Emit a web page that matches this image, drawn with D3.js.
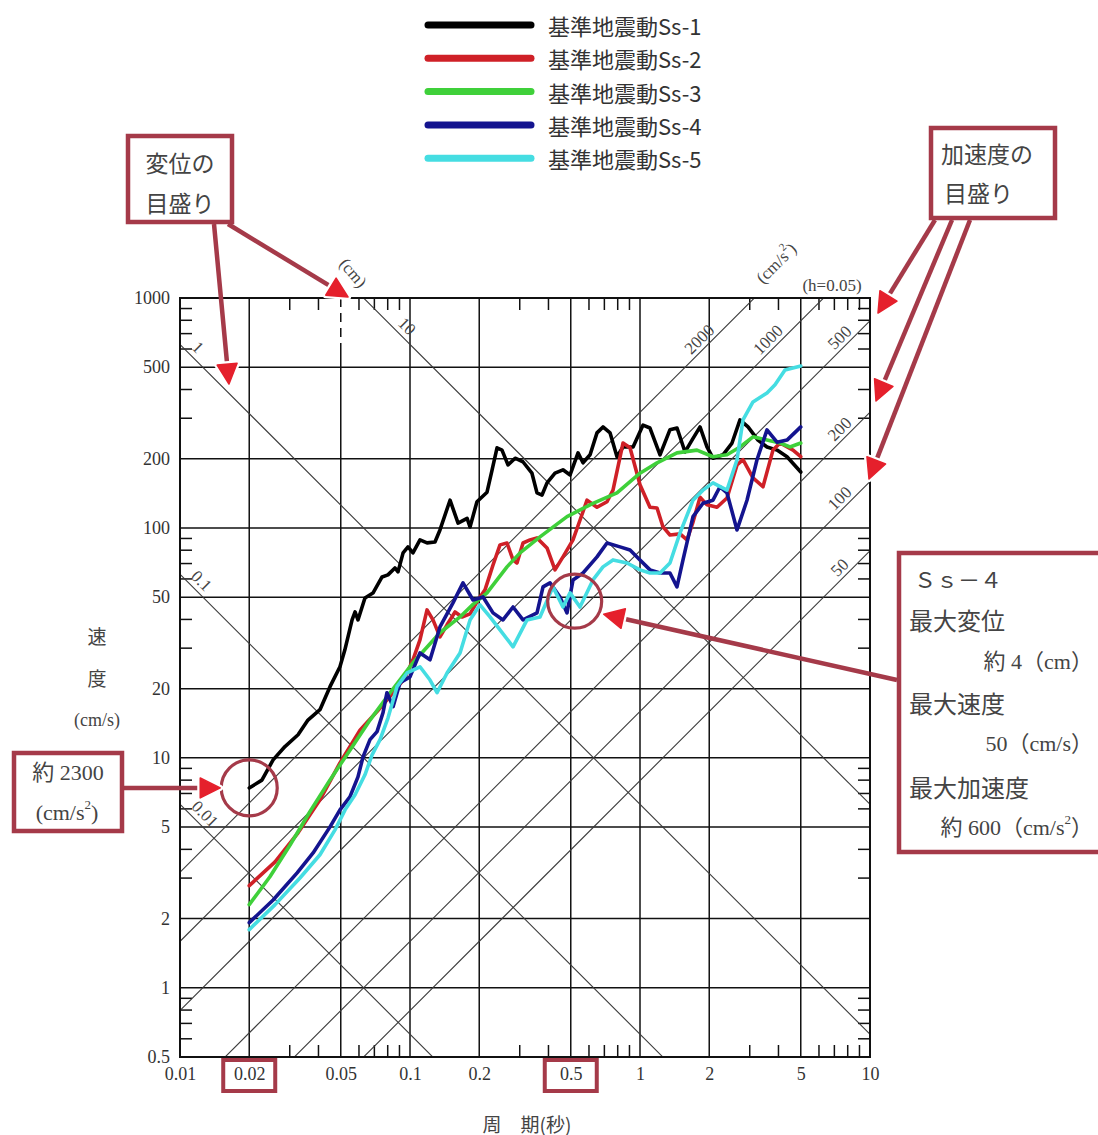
<!DOCTYPE html>
<html>
<head>
<meta charset="utf-8">
<script src="https://cdn.jsdelivr.net/npm/d3@7"></script>
<style>
  body { margin: 0; background: #fff; }
  svg { display: block; }
</style>
</head>
<body>
<svg id="chart" width="1098" height="1135"></svg>
<script>
// ---- series: [period (s), pseudo velocity (cm/s)] ----
const seriesNames = ["基準地震動Ss-1", "基準地震動Ss-2", "基準地震動Ss-3", "基準地震動Ss-4", "基準地震動Ss-5"];
const seriesColors = ["#000000", "#cf2027", "#3fd03a", "#14148f", "#45dde2"];

const ss1 = [[0.02,7.4],[0.0227,8.0],[0.0254,9.8],[0.0286,11.2],[0.0326,12.6],[0.036,14.6],[0.0406,16.2],[0.0449,20.4],[0.0496,24.9],[0.0521,29.5],[0.056,39.8],[0.0577,43.1],[0.0594,39.8],[0.0637,49.6],[0.069,52.1],[0.0756,61.2],[0.0802,62.5],[0.086,67.0],[0.0887,64.4],[0.0933,77.9],[0.098,82.7],[0.103,77.9],[0.1105,88.7],[0.1186,86.1],[0.1284,86.9],[0.135,98],[0.1493,132],[0.1618,105],[0.1771,110],[0.1824,101],[0.1955,130],[0.2162,143],[0.2275,179],[0.239,223],[0.2512,218],[0.2667,188],[0.2864,201],[0.3097,194],[0.339,173],[0.3566,142],[0.375,139],[0.3943,157],[0.427,173],[0.4624,179],[0.4966,170],[0.5377,212],[0.5652,192],[0.6067,208],[0.6501,259],[0.6904,275],[0.7413,259],[0.7943,204],[0.8434,225],[0.933,225],[1.031,280],[1.105,272],[1.222,208],[1.349,267],[1.449,272],[1.57,214],[1.683,241],[1.824,275],[1.955,225],[2.076,201],[2.295,208],[2.512,234],[2.721,295],[2.949,275],[3.258,241],[3.566,225],[3.943,218],[4.357,204],[5.0,175]];

const ss2 = [[0.02,2.78],[0.0259,3.53],[0.0326,4.72],[0.0406,6.57],[0.0496,9.51],[0.0606,13.2],[0.0719,15.9],[0.0844,19.2],[0.0951,22.3],[0.103,26.7],[0.1105,32.6],[0.1186,44.0],[0.1259,39.8],[0.135,33.6],[0.1449,37.9],[0.157,43.1],[0.1683,41.0],[0.1824,42.3],[0.1976,48.6],[0.2119,53.8],[0.2296,69.0],[0.2462,84.4],[0.2641,86.0],[0.2805,72.6],[0.2919,70.4],[0.31,86.0],[0.3325,88.7],[0.3566,90.5],[0.3942,81.8],[0.427,65.7],[0.4625,74.8],[0.5113,88.7],[0.5483,108],[0.5884,132],[0.6502,123],[0.7187,130],[0.7632,146],[0.8435,234],[0.9049,223],[1.0,154],[1.105,123],[1.186,122],[1.259,101],[1.35,93.2],[1.493,94.2],[1.601,88.7],[1.70,106],[1.824,136],[1.956,126],[2.162,123],[2.389,135],[2.641,188],[2.804,198],[3.099,165],[3.425,151],[3.786,218],[4.061,234],[4.627,218],[5.0,204]];

const ss3 = [[0.02,2.3],[0.0246,3.04],[0.0301,4.18],[0.0367,5.83],[0.0449,8.02],[0.0548,10.8],[0.067,14.6],[0.0819,19.2],[0.103,25.9],[0.135,35.0],[0.165,41.0],[0.188,46.5],[0.2162,52.2],[0.2641,67.7],[0.3009,77.9],[0.3674,91.4],[0.4816,112],[0.6246,128],[0.7943,142],[1.0,173],[1.186,192],[1.448,212],[1.769,218],[2.076,204],[2.389,208],[2.722,225],[3.099,249],[3.566,241],[4.061,234],[4.489,225],[5.0,234]];

const ss4 = [[0.02,1.92],[0.0254,2.41],[0.0323,3.16],[0.0379,3.86],[0.0449,5.01],[0.0496,5.94],[0.0548,6.77],[0.0594,8.27],[0.0625,10.1],[0.067,12.0],[0.0719,13.0],[0.0763,15.7],[0.0794,19.2],[0.0844,16.7],[0.0905,21.2],[0.1,22.5],[0.1105,28.6],[0.1222,26.7],[0.135,37.1],[0.1538,47.2],[0.17,57.7],[0.1879,48.6],[0.2077,50.1],[0.2296,42.7],[0.2537,39.8],[0.2805,45.3],[0.31,39.8],[0.3566,42.7],[0.3788,55.4],[0.4062,57.7],[0.4489,50.1],[0.4816,42.7],[0.5113,59.4],[0.5652,63.7],[0.6502,74.8],[0.7187,86.0],[0.8185,82.7],[0.9049,80.2],[1.0,72.6],[1.105,65.7],[1.222,63.7],[1.35,63.7],[1.448,55.4],[1.538,72.6],[1.70,112],[1.879,128],[2.076,132],[2.227,151],[2.389,142],[2.641,98.0],[2.919,132],[3.226,198],[3.566,267],[3.941,236],[4.357,241],[5.0,275]];

const ss5 = [[0.02,1.79],[0.0259,2.30],[0.0333,3.01],[0.0406,3.79],[0.0472,4.86],[0.0522,5.94],[0.0577,6.91],[0.0637,8.44],[0.0684,10.3],[0.0741,12.0],[0.0802,14.9],[0.0878,20.4],[0.0971,23.4],[0.1105,24.9],[0.1222,21.8],[0.1311,19.2],[0.1449,23.4],[0.165,28.6],[0.1824,39.8],[0.2015,46.3],[0.2228,41.0],[0.2462,36.0],[0.2805,30.4],[0.3227,39.8],[0.3674,41.0],[0.4184,55.4],[0.4625,45.3],[0.4963,52.2],[0.5483,45.3],[0.6246,59.4],[0.6903,67.7],[0.7632,72.6],[0.8781,70.4],[1.0,65.7],[1.105,63.7],[1.222,63.7],[1.35,70.4],[1.493,95.1],[1.70,132],[1.879,146],[2.076,157],[2.389,146],[2.641,198],[2.804,295],[3.099,353],[3.566,386],[3.864,419],[4.27,486],[5.0,506]];

// ---- axes ----
const xTicks = [0.01, 0.02, 0.05, 0.1, 0.2, 0.5, 1, 2, 5, 10];
const yTicks = [0.5, 1, 2, 5, 10, 20, 50, 100, 200, 500, 1000];
const xGrid = [0.02, 0.05, 0.1, 0.2, 0.5, 1, 2, 5];
const yGrid = [1, 2, 5, 10, 20, 50, 100, 200, 500];
const xMinor = [0.03, 0.04, 0.06, 0.07, 0.08, 0.09, 0.3, 0.4, 0.6, 0.7, 0.8, 0.9, 3, 4, 6, 7, 8, 9];
const yMinor = [0.6, 0.7, 0.8, 0.9, 3, 4, 6, 7, 8, 9, 30, 40, 60, 70, 80, 90, 300, 400, 600, 700, 800, 900];

// tripartite reference lines
const dispLines = [0.01, 0.1, 1, 10];            // displacement (cm)
const dispLabelT = [0.0119, 0.0115, 0.0111, 0.090];
const accLines = [50, 100, 200, 500, 1000, 2000]; // acceleration (cm/s2)
const accLabelT = [7.9, 7.9, 7.9, 7.9, 3.86, 1.94];

// Ss-4 peak values marked on the chart
const ss4Peak = { period: 0.52, velocity: 48 };
const ss1Start = { period: 0.02, velocity: 7.4 };

const serif = "'Liberation Serif', 'Times New Roman', 'Noto Sans CJK JP', serif";
const cjk = "'Noto Sans CJK JP', 'Noto Sans CJK SC', sans-serif";
const mixed = "'Liberation Serif', 'Noto Sans CJK JP', serif";
const annoDark = "#a53a49";
const annoRed = "#e5202c";

const svg = d3.select("#chart");
svg.append("rect").attr("width", 1098).attr("height", 1135).attr("fill", "#fff");

const x = d3.scaleLog().domain([0.01, 10]).range([180, 870]);
const y = d3.scaleLog().domain([0.5, 1000]).range([1057, 298]);
const L = x(0.01), R = x(10), T = y(1000), B = y(0.5);

svg.append("defs").append("clipPath").attr("id", "plotClip")
  .append("rect").attr("x", L).attr("y", T).attr("width", R - L).attr("height", B - T);

// grid
const grid = svg.append("g").attr("stroke", "#111").attr("stroke-width", 1.5).attr("fill", "none");
xGrid.forEach(v => {
  if (v === 0.05) {
    grid.append("line").attr("x1", x(v)).attr("x2", x(v)).attr("y1", T).attr("y2", T + 48)
      .attr("stroke-dasharray", "9,6");
    grid.append("line").attr("x1", x(v)).attr("x2", x(v)).attr("y1", T + 48).attr("y2", B);
  } else {
    grid.append("line").attr("x1", x(v)).attr("x2", x(v)).attr("y1", T).attr("y2", B);
  }
});
yGrid.forEach(v => {
  grid.append("line").attr("x1", L).attr("x2", R).attr("y1", y(v)).attr("y2", y(v));
});
xMinor.forEach(v => {
  grid.append("line").attr("x1", x(v)).attr("x2", x(v)).attr("y1", T).attr("y2", T + 12);
  grid.append("line").attr("x1", x(v)).attr("x2", x(v)).attr("y1", B - 12).attr("y2", B);
});
yMinor.forEach(v => {
  grid.append("line").attr("x1", L).attr("x2", L + 12).attr("y1", y(v)).attr("y2", y(v));
  grid.append("line").attr("x1", R - 12).attr("x2", R).attr("y1", y(v)).attr("y2", y(v));
});

// diagonal displacement / acceleration lines
const lineGen = d3.line().x(d => x(d[0])).y(d => y(d[1]));
const diag = svg.append("g").attr("clip-path", "url(#plotClip)")
  .attr("stroke", "#3a3a3a").attr("stroke-width", 1.1).attr("fill", "none");
const span = [0.004, 25];
dispLines.forEach(D => diag.append("path").attr("d", lineGen(span.map(t => [t, 2 * Math.PI * D / t]))));
accLines.forEach(A => diag.append("path").attr("d", lineGen(span.map(t => [t, A * t / (2 * Math.PI)]))));

// diagonal labels
const dlab = svg.append("g").attr("font-family", serif).attr("font-size", 17).attr("fill", "#444");
dispLines.forEach((D, i) => {
  const t = dispLabelT[i];
  dlab.append("text")
    .attr("transform", `translate(${x(t)},${y(2 * Math.PI * D / t)}) rotate(45)`)
    .attr("text-anchor", "middle").attr("dy", -5).text(String(D));
});
accLines.forEach((A, i) => {
  const t = accLabelT[i];
  dlab.append("text")
    .attr("transform", `translate(${x(t)},${y(A * t / (2 * Math.PI))}) rotate(-45)`)
    .attr("text-anchor", "middle").attr("dy", -4).text(String(A));
});
dlab.append("text").attr("transform", "translate(353,273) rotate(50)")
  .attr("text-anchor", "middle").attr("dominant-baseline", "central").text("(cm)");
const cms2 = dlab.append("text").attr("transform", "translate(776,263) rotate(-45)")
  .attr("text-anchor", "middle").attr("dominant-baseline", "central");
cms2.append("tspan").text("(cm/s");
cms2.append("tspan").attr("font-size", 11).attr("dy", -7).text("2");
cms2.append("tspan").attr("dy", 7).text(")");
dlab.append("text").attr("x", 832).attr("y", 285).attr("text-anchor", "middle")
  .attr("dominant-baseline", "central").text("(h=0.05)");

// frame
svg.append("rect").attr("x", L).attr("y", T).attr("width", R - L).attr("height", B - T)
  .attr("fill", "none").attr("stroke", "#111").attr("stroke-width", 2);

// axis tick labels
const fmt = d => String(d);
svg.append("g").attr("transform", `translate(0,${B})`)
  .call(d3.axisBottom(x).tickValues(xTicks).tickFormat(fmt).tickSize(0).tickPadding(10))
  .call(g => g.select(".domain").remove())
  .attr("font-family", serif).attr("font-size", 18)
  .selectAll("text").attr("fill", "#333");
svg.append("g").attr("transform", `translate(${L},0)`)
  .call(d3.axisLeft(y).tickValues(yTicks).tickFormat(fmt).tickSize(0).tickPadding(10))
  .call(g => g.select(".domain").remove())
  .attr("font-family", serif).attr("font-size", 18)
  .selectAll("text").attr("fill", "#333");

// axis titles
const titles = svg.append("g").attr("fill", "#444").attr("text-anchor", "middle")
  .attr("dominant-baseline", "central");
titles.append("text").attr("x", 97).attr("y", 635).attr("font-family", cjk).attr("font-size", 19).text("速");
titles.append("text").attr("x", 97).attr("y", 677).attr("font-family", cjk).attr("font-size", 19).text("度");
titles.append("text").attr("x", 97).attr("y", 720).attr("font-family", serif).attr("font-size", 18).text("(cm/s)");
titles.append("text").attr("x", 527).attr("y", 1123).attr("font-family", cjk).attr("font-size", 19).text("周\u2003期(秒)");

// spectra
const curveGen = d3.line().x(d => x(d[0])).y(d => y(d[1]));
const seriesData = [ss1, ss2, ss3, ss4, ss5];
const curves = svg.append("g").attr("fill", "none").attr("stroke-width", 3.6)
  .attr("stroke-linejoin", "round").attr("stroke-linecap", "round");
seriesData.forEach((data, i) => {
  curves.append("path").attr("d", curveGen(data)).attr("stroke", seriesColors[i]);
});

// legend
const legend = svg.append("g");
seriesNames.forEach((name, i) => {
  const ly = 25 + i * 33.3;
  legend.append("line").attr("x1", 428).attr("x2", 531).attr("y1", ly).attr("y2", ly)
    .attr("stroke", seriesColors[i]).attr("stroke-width", 7).attr("stroke-linecap", "round");
  legend.append("text").attr("x", 548).attr("y", ly).attr("dominant-baseline", "central")
    .attr("font-family", cjk).attr("font-size", 22).attr("fill", "#333").text(name);
});

// ---- annotations ----
const anno = svg.append("g");

function arrow(x1, y1, x2, y2) {
  const dx = x2 - x1, dy = y2 - y1, len = Math.hypot(dx, dy);
  const ux = dx / len, uy = dy / len, px = -uy, py = ux;
  const hl = 20, hw = 10;
  const bx = x2 - ux * hl, by = y2 - uy * hl;
  anno.append("line").attr("x1", x1).attr("y1", y1).attr("x2", bx + ux * 4).attr("y2", by + uy * 4)
    .attr("stroke", annoDark).attr("stroke-width", 4.5);
  const pts = [[x2, y2], [bx + px * hw, by + py * hw], [bx - px * hw, by - py * hw]];
  anno.append("polygon").attr("points", pts.map(p => p.join(",")).join(" "))
    .attr("fill", "none").attr("stroke", "#fff").attr("stroke-width", 6).attr("stroke-linejoin", "round");
  anno.append("polygon").attr("points", pts.map(p => p.join(",")).join(" "))
    .attr("fill", annoRed).attr("stroke", annoRed).attr("stroke-width", 1.5).attr("stroke-linejoin", "round");
}

function box(bx, by, bw, bh) {
  anno.append("rect").attr("x", bx).attr("y", by).attr("width", bw).attr("height", bh)
    .attr("fill", "#fff").attr("stroke", annoDark).attr("stroke-width", 4.5);
}

function label(tx, ty, text, anchor, size, family) {
  return anno.append("text").attr("x", tx).attr("y", ty).attr("text-anchor", anchor || "start")
    .attr("dominant-baseline", "central").attr("font-family", family || mixed)
    .attr("font-size", size || 22).attr("fill", "#444").text(text);
}

// displacement scale note
arrow(214, 224, 229, 384);
arrow(228, 224, 348, 297);
box(128, 136, 104, 86);
label(180, 162, "変位の", "middle", 23, cjk);
label(180, 202, "目盛り", "middle", 23, cjk);

// acceleration scale note
arrow(935, 220, 878, 313);
arrow(952, 220, 876, 401);
arrow(970, 220, 869, 479);
box(931, 128, 124, 90);
label(941, 153, "加速度の", "start", 23, cjk);
label(944, 192, "目盛り", "start", 23, cjk);

// Ss-1 start point
anno.append("circle").attr("cx", x(ss1Start.period)).attr("cy", y(ss1Start.velocity)).attr("r", 28)
  .attr("fill", "none").attr("stroke", annoDark).attr("stroke-width", 3.2);
arrow(122, y(ss1Start.velocity), x(ss1Start.period) - 29, y(ss1Start.velocity));
box(14, 753, 108, 78);
label(68, 772, "約 2300", "middle", 22);
const u2 = anno.append("text").attr("x", 67).attr("y", 812).attr("text-anchor", "middle")
  .attr("dominant-baseline", "central").attr("font-family", serif).attr("font-size", 22).attr("fill", "#444");
u2.append("tspan").text("(cm/s");
u2.append("tspan").attr("font-size", 13).attr("dy", -8).text("2");
u2.append("tspan").attr("dy", 8).text(")");

// Ss-4 peak
anno.append("circle").attr("cx", x(ss4Peak.period)).attr("cy", y(ss4Peak.velocity)).attr("r", 27)
  .attr("fill", "none").attr("stroke", annoDark).attr("stroke-width", 3.2);
arrow(897, 680, x(ss4Peak.period) + 29, y(ss4Peak.velocity) + 13);
box(899, 553, 230, 299);
label(914, 578, "Ｓｓ－４", "start", 22, cjk);
label(909, 619, "最大変位", "start", 24, cjk);
label(1093, 661, "約 4（cm）", "end", 22);
label(909, 702, "最大速度", "start", 24, cjk);
label(1093, 743, "50（cm/s）", "end", 22);
label(909, 786, "最大加速度", "start", 24, cjk);
const pk = anno.append("text").attr("x", 1093).attr("y", 827).attr("text-anchor", "end")
  .attr("dominant-baseline", "central").attr("font-family", mixed).attr("font-size", 22).attr("fill", "#444");
pk.append("tspan").text("約 600（cm/s");
pk.append("tspan").attr("font-size", 13).attr("dy", -8).text("2");
pk.append("tspan").attr("dy", 8).text("）");

// highlighted period ticks
[0.02, 0.5].forEach(v => {
  anno.append("rect").attr("x", x(v) - 26).attr("y", 1060).attr("width", 52).attr("height", 31)
    .attr("fill", "none").attr("stroke", annoDark).attr("stroke-width", 4);
});
</script>
</body>
</html>
